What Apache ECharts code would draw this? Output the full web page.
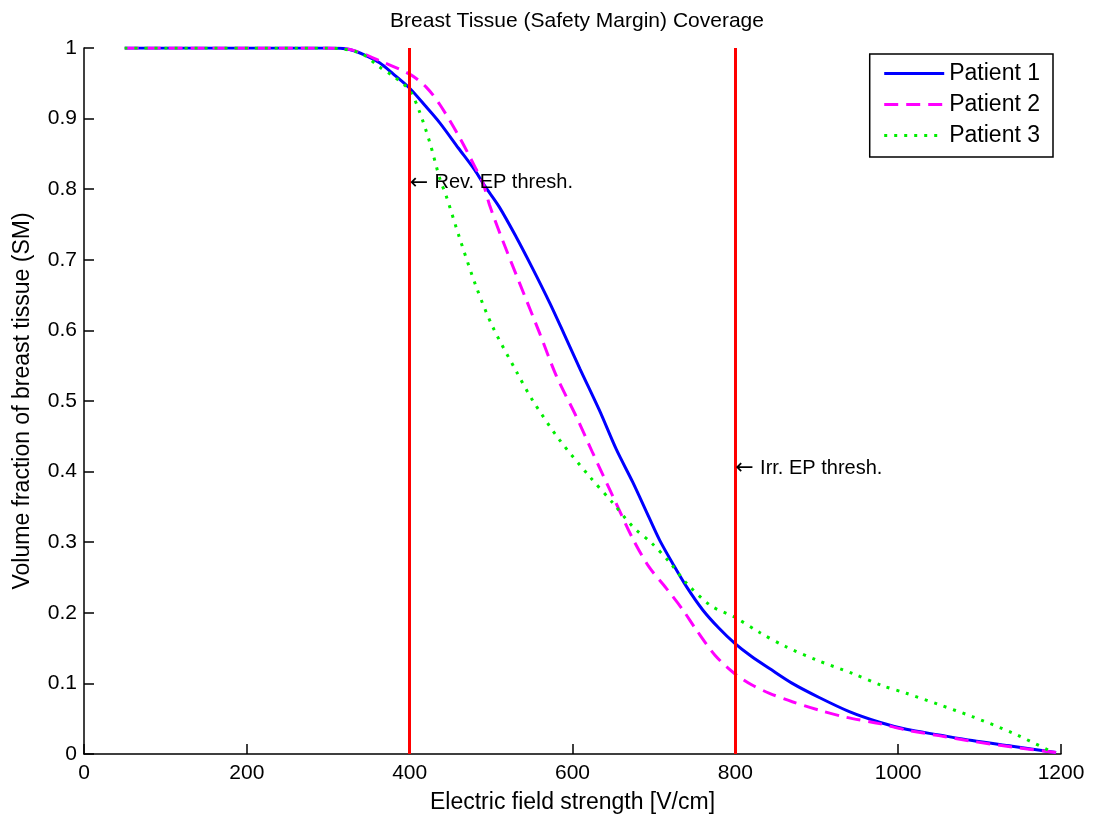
<!DOCTYPE html>
<html>
<head>
<meta charset="utf-8">
<script src="https://cdn.jsdelivr.net/npm/echarts@6/dist/echarts.min.js"></script>
<style>html,body{margin:0;padding:0;background:#fff}#c{width:1093px;height:819px}</style>
</head>
<body>
<div id="c"></div>
<script>
const titleText = 'Breast Tissue (Safety Margin) Coverage';
const xLabel = 'Electric field strength [V/cm]';
const yLabel = 'Volume fraction of breast tissue (SM)';
const seriesNames = ['Patient 1', 'Patient 2', 'Patient 3'];

const p1X = [50, 300, 326, 345, 363, 380, 400, 420, 437, 460, 480, 492, 510, 531, 550, 572, 590, 609, 633, 654, 674, 694, 707, 723, 740, 760, 780, 799, 820, 842, 870, 903, 940, 977, 1010, 1050, 1091, 1140, 1194];
const p1Y = [1, 1, 0.998, 0.99, 0.979, 0.963, 0.943, 0.917, 0.894, 0.858, 0.827, 0.805, 0.775, 0.732, 0.69, 0.639, 0.594, 0.546, 0.487, 0.431, 0.385, 0.335, 0.303, 0.27, 0.237, 0.204, 0.178, 0.157, 0.138, 0.121, 0.1, 0.08, 0.06, 0.045, 0.035, 0.027, 0.019, 0.011, 0.002];

const p2X = [50, 300, 330, 363, 400, 420, 437, 461, 480, 490, 498, 514, 535, 560, 580, 605, 625, 650, 674, 694, 715, 735, 752, 775, 799, 820, 842, 870, 903, 936, 977, 1010, 1050, 1091, 1140, 1194];
const p2Y = [1, 1, 0.997, 0.982, 0.963, 0.945, 0.92, 0.874, 0.832, 0.809, 0.778, 0.728, 0.667, 0.595, 0.536, 0.477, 0.426, 0.364, 0.305, 0.265, 0.235, 0.205, 0.176, 0.14, 0.114, 0.098, 0.086, 0.074, 0.062, 0.052, 0.043, 0.034, 0.026, 0.018, 0.01, 0.002];

const p3X = [50, 300, 339, 363, 380, 400, 412, 425, 437, 445, 461, 482, 502, 531, 551, 584, 621, 650, 674, 697, 719, 740, 770, 799, 830, 862, 900, 944, 980, 1010, 1050, 1091, 1140, 1189];
const p3Y = [1, 1, 0.993, 0.973, 0.96, 0.94, 0.91, 0.865, 0.815, 0.79, 0.732, 0.661, 0.605, 0.542, 0.501, 0.445, 0.393, 0.355, 0.322, 0.299, 0.272, 0.242, 0.21, 0.194, 0.172, 0.152, 0.133, 0.114, 0.097, 0.086, 0.07, 0.053, 0.03, 0.003];

const thresholds = [400, 800];
const thresholdLabels = ['Rev. EP thresh.', 'Irr. EP thresh.'];
const thresholdLabelY = [0.809, 0.404];

const xTicks = [0, 200, 400, 600, 800, 1000, 1200];
const yTicks = [0, 0.1, 0.2, 0.3, 0.4, 0.5, 0.6, 0.7, 0.8, 0.9, 1];

function pairs(xs, ys) { return xs.map((x, i) => [x, ys[i]]); }

const font = '"Liberation Sans", Arial, sans-serif';
const chart = echarts.init(document.getElementById('c'), null, {renderer: 'canvas'});

const colors = ['#0000FF', '#FF00FF', '#00EE00'];
const lineTypes = ['solid', [14, 8], [3, 7]];
const dataSets = [pairs(p1X, p1Y), pairs(p2X, p2Y), pairs(p3X, p3Y)];

const series = seriesNames.map((name, i) => ({
  name: name,
  type: 'line',
  data: dataSets[i],
  showSymbol: false,
  symbol: 'none',
  smooth: 0.3,
  lineStyle: {color: colors[i], width: 3, type: lineTypes[i]},
  itemStyle: {color: colors[i]},
  z: 3,
  animation: false
}));

series.push({
  name: 'thresholds',
  type: 'line',
  data: [],
  silent: true,
  animation: false,
  markLine: {
    silent: true,
    symbol: ['none', 'none'],
    label: {show: false},
    lineStyle: {color: '#FF0000', width: 3, type: 'solid'},
    data: thresholds.map(t => ({xAxis: t}))
  },
  markPoint: {
    silent: true,
    symbol: 'circle',
    symbolSize: 0,
    data: thresholds.map((t, i) => ({
      coord: [t, thresholdLabelY[i]],
      label: {
        show: true,
        position: 'right',
        distance: 0,
        formatter: '{a|\u2190} {t|' + thresholdLabels[i] + '}',
        rich: {
          a: {fontFamily: '"DejaVu Sans", sans-serif', fontSize: 22, color: '#000'},
          t: {fontFamily: font, fontSize: 20, color: '#000', padding: [0, 0, 0, 3]}
        }
      }
    }))
  },
  z: 2
});

chart.setOption({
  animation: false,
  backgroundColor: '#fff',
  title: {
    text: titleText,
    left: 572,
    textAlign: 'center',
    top: 6,
    textStyle: {fontSize: 21, fontWeight: 'normal', color: '#000', fontFamily: font}
  },
  legend: {
    data: seriesNames,
    orient: 'vertical',
    right: 40,
    top: 54,
    itemWidth: 60,
    itemHeight: 14,
    itemGap: 8,
    padding: [8, 13, 10, 13],
    borderColor: '#000',
    borderWidth: 1.5,
    backgroundColor: '#fff',
    itemStyle: {opacity: 0},
    lineStyle: {width: 3},
    textStyle: {fontSize: 23, lineHeight: 23, color: '#000', fontFamily: font},
    selectedMode: false
  },
  grid: {left: 84, right: 32, top: 48, bottom: 65, containLabel: false},
  xAxis: {
    type: 'value',
    min: 0, max: 1200, interval: 200,
    name: xLabel,
    nameLocation: 'middle',
    nameGap: 37,
    nameTextStyle: {fontSize: 23, color: '#000', fontFamily: font},
    axisLine: {show: true, lineStyle: {color: '#000', width: 1.5}},
    axisTick: {show: true, inside: true, length: 10, lineStyle: {color: '#000', width: 1.5}},
    axisLabel: {fontSize: 21, color: '#000', fontFamily: font, margin: 9,
      formatter: v => xTicks.includes(v) ? String(v) : ''},
    splitLine: {show: false}
  },
  yAxis: {
    type: 'value',
    min: 0, max: 1, interval: 0.1,
    name: yLabel,
    nameLocation: 'middle',
    nameGap: 50,
    nameRotate: 90,
    nameTextStyle: {fontSize: 23, color: '#000', fontFamily: font},
    axisLine: {show: true, lineStyle: {color: '#000', width: 1.5}},
    axisTick: {show: true, inside: true, length: 10, lineStyle: {color: '#000', width: 1.5}},
    axisLabel: {fontSize: 21, color: '#000', fontFamily: font, margin: 7,
      formatter: v => { const r = Math.round(v * 10) / 10; return yTicks.includes(r) ? String(r) : ''; }},
    splitLine: {show: false}
  },
  series: series
});
</script>
</body>
</html>
